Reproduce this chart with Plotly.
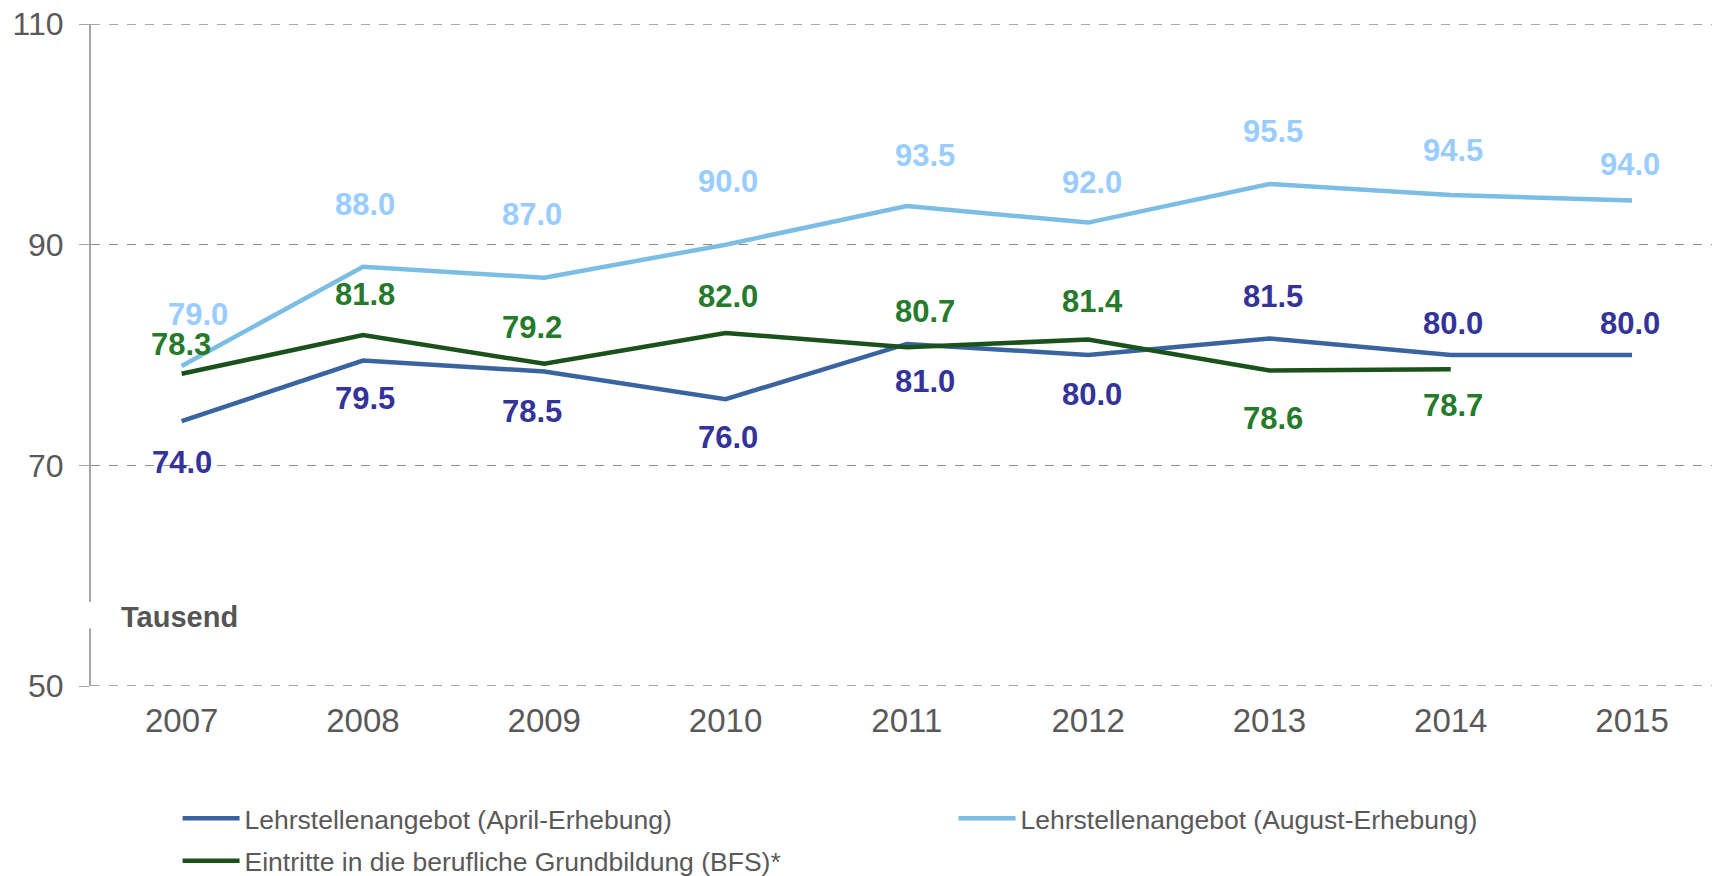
import plotly.graph_objects as go

years = [2007, 2008, 2009, 2010, 2011, 2012, 2013, 2014, 2015]
april = [74.0, 79.5, 78.5, 76.0, 81.0, 80.0, 81.5, 80.0, 80.0]
august = [79.0, 88.0, 87.0, 90.0, 93.5, 92.0, 95.5, 94.5, 94.0]
bfs_years = [2007, 2008, 2009, 2010, 2011, 2012, 2013, 2014]
bfs = [78.3, 81.8, 79.2, 82.0, 80.7, 81.4, 78.6, 78.7]

names = ["Lehrstellenangebot (April-Erhebung)",
         "Lehrstellenangebot (August-Erhebung)",
         "Eintritte in die berufliche Grundbildung (BFS)*"]
yticks = [50, 70, 90, 110]

# label placement (pixel shifts) - style only
april_dy = [-41, -38, -40, -38, -38, -39, 42, 32, 32]
april_dx = [0, 2, -12, 2, 18, 4, 4, 2, -2]
august_dy = [52, 62, 63, 63, 51, 40, 52, 45, 36]
august_dx = [16, 2, -12, 2, 18, 4, 4, 2, -2]
bfs_dy = [29, 41, 36, 36, 36, 38, -48, -36]
bfs_dx = [-1, 2, -12, 2, 18, 4, 4, 2]

FONT = "Arial, 'Liberation Sans', sans-serif"
line_cols = ["#3A64A0", "#7BBDE3", "#1B521B"]
lab_cols = ["#333399", "#99CCFF", "#267A2C"]
legend_ids = ["legend", "legend", "legend2"]
GRID = "#8C8C8C"

fig = go.Figure()
series = [(years, april, april_dx, april_dy),
          (years, august, august_dx, august_dy),
          (bfs_years, bfs, bfs_dx, bfs_dy)]
for i, (xs, ys, dxs, dys) in enumerate(series):
    fig.add_trace(go.Scatter(x=xs, y=ys, mode="lines", name=names[i],
                             legend=legend_ids[i],
                             line=dict(color=line_cols[i], width=4.5)))
annos = []
for i, (xs, ys, dxs, dys) in enumerate(series):
    for x, y, dx, dy in zip(xs, ys, dxs, dys):
        annos.append(dict(x=x, y=y, xref="x", yref="y", text=f"<b>{y:.1f}</b>",
                          showarrow=False, xshift=dx, yshift=dy,
                          font=dict(family=FONT, size=31, color=lab_cols[i]),
                          xanchor="center", yanchor="middle"))

annos.append(dict(x=0.017, y=0.104, xref="paper", yref="paper", text="<b>Tausend</b>",
                  showarrow=False, xanchor="left", yanchor="middle",
                  font=dict(family=FONT, size=29, color="#555555")))

shapes = [dict(type="rect", xref="paper", yref="paper", x0=-0.003, x1=0.015,
               y0=0.087, y1=0.127, fillcolor="white", line=dict(width=0), layer="above")]
for v in (yticks[0], yticks[-1]):
    shapes.append(dict(type="line", xref="paper", yref="y", x0=0, x1=1, y0=v, y1=v,
                       line=dict(color=GRID, width=1.3, dash="dash"), layer="below"))

legfont = dict(family=FONT, size=26.5, color="#595959")
fig.update_layout(
    width=1712, height=876,
    margin=dict(l=91, r=0, t=24, b=190, autoexpand=False),
    paper_bgcolor="white", plot_bgcolor="white",
    font=dict(family=FONT, color="#595959"),
    annotations=annos,
    shapes=shapes,
    showlegend=True,
    legend=dict(orientation="h", xref="paper", yref="paper",
                x=0.0534, y=-0.164, xanchor="left", yanchor="top",
                entrywidth=704, entrywidthmode="pixels",
                font=legfont, itemwidth=57, bgcolor="rgba(0,0,0,0)"),
    legend2=dict(orientation="h", xref="paper", yref="paper",
                 x=0.0534, y=-0.228, xanchor="left", yanchor="top",
                 font=legfont, itemwidth=57, bgcolor="rgba(0,0,0,0)"),
    xaxis=dict(range=[2006.5, 2015.441], tickvals=years, ticktext=[str(y) for y in years],
               showgrid=False, zeroline=False, showline=False, ticks="",
               tickfont=dict(family=FONT, size=33, color="#595959"),
               ticklabelstandoff=12),
    yaxis=dict(range=[50, 110], tickvals=yticks, showgrid=True, gridcolor=GRID,
               griddash="dash", gridwidth=1.3, zeroline=False,
               showline=True, linecolor="#A6A6A6", linewidth=2,
               ticks="outside", ticklen=10, tickcolor="#A6A6A6", tickwidth=1.3,
               tickfont=dict(family=FONT, size=32, color="#595959"),
               ticklabelstandoff=9),
)

fig.write_html("out.html", config={"displayModeBar": False},
               post_script="document.body.style.margin='0';document.body.style.overflow='hidden';")
